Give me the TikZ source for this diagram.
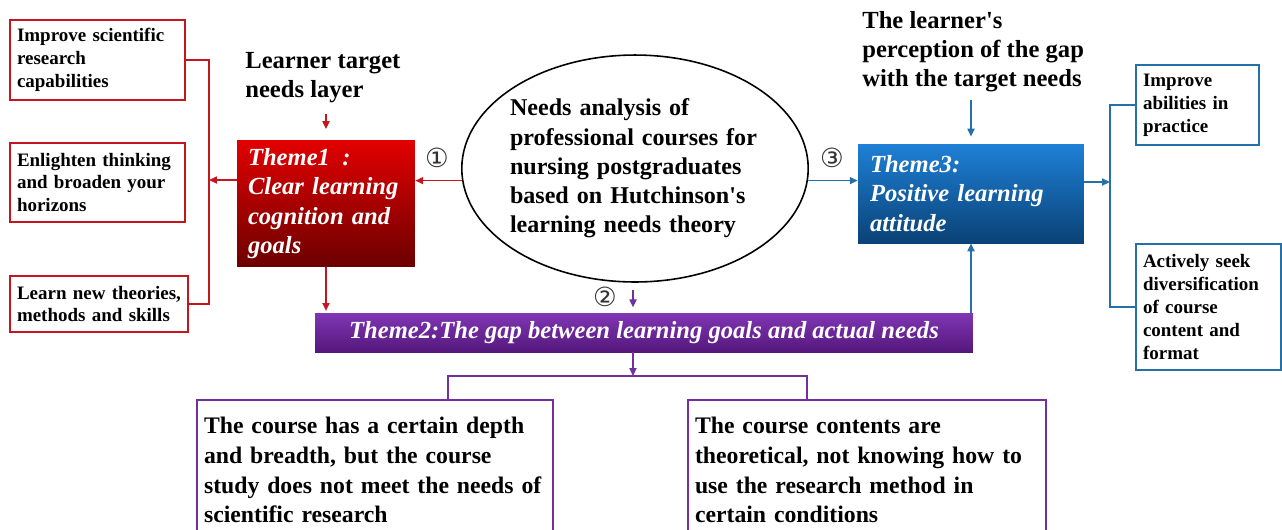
\documentclass[tikz,border=0pt]{standalone}
\usepackage{fontspec}
\setmainfont{Liberation Serif}
\newfontfamily\ronds{DejaVu Sans}
\usetikzlibrary{shapes.geometric,arrows.meta}
\definecolor{rouge}{RGB}{196,22,30}
\definecolor{bleu}{RGB}{38,112,168}
\definecolor{violet}{RGB}{112,48,160}
\begin{document}
\begin{tikzpicture}[x=0.02cm,y=-0.02cm]
  \tikzstyle{boite}=[draw, line width=1.1pt, fill=white, inner xsep=0.14cm, inner ysep=0pt,
    align=left, font=\bfseries\fontsize{10.8}{13}\selectfont]
  \tikzstyle{theme}=[inner xsep=0.22cm, inner ysep=0pt, align=left, text=white,
    font=\bfseries\itshape\fontsize{14}{16.6}\selectfont]
  \tikzstyle{titre}=[inner sep=0pt, align=left, font=\bfseries\fontsize{14}{16.6}\selectfont]
  \tikzstyle{rond}=[inner sep=0pt, text=black!80, font=\ronds\fontsize{15}{15}\selectfont]
  \tikzstyle{fleche}=[-{Triangle[length=4.5pt,width=4pt]}, line width=0.9pt]
  \useasboundingbox (0,0) rectangle (1282,529);
  % centre
  \node[draw, ellipse, line width=0.9pt, inner xsep=-0.05cm, inner ysep=0pt,
    minimum width=6.92cm, minimum height=4.54cm, text width=5cm, align=left,
    font=\bfseries\fontsize{13.7}{16.6}\selectfont] (besoin) at (635,168.5)
    {Needs analysis of\\ professional courses for\\ nursing postgraduates\\
     based on Hutchinson\textquotesingle s\\ learning needs theory};
  % themes
  \node[theme, minimum width=3.56cm, minimum height=2.54cm, text width=3.12cm,
    top color={rgb,255:red,226;green,0;blue,0}, middle color={rgb,255:red,196;green,0;blue,0},
    bottom color={rgb,255:red,108;green,0;blue,0}] (t1) at (326,203.5)
    {Theme1\enspace:\\ Clear learning\\ cognition and\\ goals};
  \node[theme, minimum width=4.52cm, minimum height=1.98cm, text width=4.04cm, inner xsep=0.24cm,
    top color={rgb,255:red,30;green,128;blue,214}, middle color={rgb,255:red,20;green,104;blue,178},
    bottom color={rgb,255:red,10;green,66;blue,118}] (t3) at (971,193.5)
    {Theme3:\\ Positive learning\\ attitude};
  \node[theme, align=center, minimum width=13.16cm, minimum height=0.78cm,
    top color={rgb,255:red,128;green,54;blue,180}, bottom color={rgb,255:red,84;green,24;blue,124}]
    (t2) at (644,332.5) {Theme2:The gap between learning goals and actual needs};
  % couches
  \node[titre, anchor=west] (couche) at (245,78) {Learner target\\ needs layer};
  \node[titre, anchor=west] (percep) at (862,52)
    {The learner\textquotesingle s\\ perception of the gap\\ with the target needs};
  \node[rond] (n1) at (437,158) {①};
  \node[rond] (n2) at (605,297) {②};
  \node[rond] (n3) at (832,158) {③};
  % boites de gauche
  \node[boite, draw=rouge, minimum width=3.5cm, minimum height=1.6cm, text width=3.22cm]
    (imp) at (97.5,60) {Improve scientific\\ research\\ capabilities};
  \node[boite, draw=rouge, minimum width=3.5cm, minimum height=1.58cm, text width=3.22cm]
    (enl) at (97.5,182.5) {Enlighten thinking\\ and broaden your\\ horizons};
  \node[boite, draw=rouge, minimum width=3.56cm, minimum height=1.12cm, text width=3.28cm]
    (lrn) at (99,304) {Learn new theories,\\ methods and skills};
  % boites de droite
  \node[boite, draw=bleu, minimum width=2.46cm, minimum height=1.6cm, text width=2.18cm]
    (rimp) at (1197.5,105) {Improve\\ abilities in\\ practice};
  \node[boite, draw=bleu, minimum width=2.9cm, minimum height=2.52cm, text width=2.62cm]
    (ract) at (1208.5,307) {Actively seek\\ diversification\\ of course\\ content and\\ format};
  % boites du bas
  \node[boite, draw=violet, minimum width=7.12cm, minimum height=2.8cm, text width=6.84cm,
    font=\bfseries\fontsize{13.5}{17}\selectfont] (b1) at (375,470)
    {The course has a certain depth\\ and breadth, but the course\\
     study does not meet the needs of\\ scientific research};
  \node[boite, draw=violet, minimum width=7.16cm, minimum height=2.8cm, text width=6.88cm,
    font=\bfseries\fontsize{13.5}{17}\selectfont] (b2) at (867,470)
    {The course contents are\\ theoretical, not knowing how to\\
     use the research method in\\ certain conditions};
  % liaisons rouges
  \coordinate (crochet) at (209,180);
  \draw[rouge, line width=0.9pt] (imp.east) -| (crochet) |- (lrn.east);
  \draw[fleche, rouge] (t1.west |- crochet) -- (crochet);
  \draw[fleche, rouge] (besoin.184) -- (besoin.184 -| t1.east);
  \draw[fleche, rouge, shorten <=6pt, shorten >=6pt] (t1.north |- couche.south) -- (t1.north);
  \draw[fleche, rouge, shorten >=1pt] (t1.south) -- (t1.south |- t2.north);
  % liaisons violettes
  \coordinate (fourche) at (633,376);
  \coordinate (fg) at (448,376);
  \coordinate (fd) at (807,376);
  \draw[fleche, violet, shorten <=4pt, shorten >=3pt] (fourche |- besoin.south) -- (fourche |- t2.north);
  \draw[fleche, violet] (fourche |- t2.south) -- (fourche);
  \draw[violet, line width=0.9pt] (fg |- b1.north) -- (fg) -- (fd) -- (fd |- b2.north);
  % liaisons bleues
  \coordinate (crochetd) at (1110,182);
  \draw[fleche, bleu] (besoin.356) -- (besoin.356 -| t3.west);
  \draw[fleche, bleu, shorten <=4pt, shorten >=4pt] (t3.north |- percep.south) -- (t3.north);
  \draw[fleche, bleu] (t3.south |- t2.north) -- (t3.south);
  \draw[fleche, bleu] (t3.east |- crochetd) -- (crochetd);
  \draw[bleu, line width=0.9pt] (rimp.west) -| (crochetd) |- (ract.west);
\end{tikzpicture}
\end{document}
